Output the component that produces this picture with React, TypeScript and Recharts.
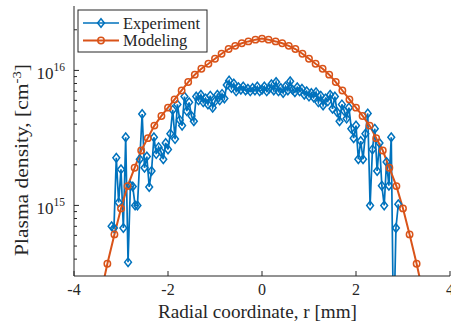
import { LineChart, Line, XAxis, YAxis } from "recharts";

const BLUE = "#0072BD";
const ORANGE = "#D95319";
const INK = "#262626";
const SERIF = '"Liberation Serif", "Times New Roman", serif';

const xTicks = [-4, -2, 0, 2, 4];
const yTicks = [
  4e14, 5e14, 6e14, 7e14, 8e14, 9e14, 1e15, 2e15, 3e15, 4e15, 5e15, 6e15,
  7e15, 8e15, 9e15, 1e16, 2e16,
];

// modeling profile, r in mm
const modelX = [
  -3.43, -3.29, -3.14, -3.0, -2.86, -2.71, -2.57, -2.43, -2.29, -2.14,
  -2.0, -1.86, -1.71, -1.57, -1.43, -1.29, -1.14, -1.0, -0.86, -0.71,
  -0.57, -0.43, -0.29, -0.14, 0, 0.14, 0.29, 0.43, 0.57, 0.71,
  0.86, 1.0, 1.14, 1.29, 1.43, 1.57, 1.71, 1.86, 2.0, 2.14,
  2.29, 2.43, 2.57, 2.71, 2.86, 3.0, 3.14, 3.29, 3.43,
];
const modelY = [
  2.2e14, 3.7e14, 6.1e14, 9.5e14, 1.39e15, 1.9e15, 2.55e15, 3.15e15, 3.9e15, 4.6e15,
  5.3e15, 6.1e15, 7.1e15, 8.2e15, 9.3e15, 1.03e16, 1.12e16, 1.22e16, 1.33e16, 1.44e16,
  1.52e16, 1.59e16, 1.64e16, 1.69e16, 1.72e16, 1.69e16, 1.64e16, 1.59e16, 1.52e16, 1.44e16,
  1.33e16, 1.22e16, 1.12e16, 1.03e16, 9.3e15, 8.2e15, 7.1e15, 6.1e15, 5.3e15, 4.6e15,
  3.9e15, 3.15e15, 2.55e15, 1.9e15, 1.39e15, 9.5e14, 6.1e14, 3.7e14, 2.2e14,
];

// measured profile
const expX = [
  -3.2, -3.15, -3.1, -3.05, -3.0, -2.95, -2.9, -2.85, -2.8, -2.75,
  -2.7, -2.65, -2.6, -2.55, -2.5, -2.45, -2.4, -2.35, -2.3, -2.25,
  -2.2, -2.15, -2.1, -2.05, -2.0, -1.95, -1.9, -1.85, -1.8, -1.75,
  -1.7, -1.65, -1.6, -1.55, -1.5, -1.45, -1.4, -1.35, -1.3, -1.25,
  -1.2, -1.15, -1.1, -1.05, -1.0, -0.95, -0.9, -0.85, -0.8, -0.75,
  -0.7, -0.65, -0.6, -0.55, -0.5, -0.45, -0.4, -0.35, -0.3, -0.25,
  -0.2, -0.15, -0.1, -0.05, 0, 0.05, 0.1, 0.15, 0.2, 0.25,
  0.3, 0.35, 0.4, 0.45, 0.5, 0.55, 0.6, 0.65, 0.7, 0.75,
  0.8, 0.85, 0.9, 0.95, 1.0, 1.05, 1.1, 1.15, 1.2, 1.25,
  1.3, 1.35, 1.4, 1.45, 1.5, 1.55, 1.6, 1.65, 1.7, 1.75,
  1.8, 1.85, 1.9, 1.95, 2.0, 2.05, 2.1, 2.15, 2.2, 2.25,
  2.3, 2.35, 2.4, 2.45, 2.5, 2.55, 2.6, 2.65, 2.7, 2.75,
  2.8, 2.85, 2.9,
];
const expY = [
  0.7e15, 0.68e15, 2.25e15, 1.05e15, 1.85e15, 0.68e15, 3.2e15, 0.38e15, 1.4e15, 1.38e15,
  1.0e15, 1.0e15, 2.2e15, 4.75e15, 1.9e15, 2.3e15, 1.37e15, 1.8e15, 3.2e15, 2.4e15,
  2.7e15, 2.5e15, 2.2e15, 2.9e15, 2.6e15, 3.4e15, 5.1e15, 3.1e15, 5.6e15, 4.3e15,
  3.9e15, 6.4e15, 5.0e15, 5.8e15, 4.6e15, 4.2e15, 6.4e15, 6.0e15, 6.6e15, 5.8e15,
  6.2e15, 5.6e15, 6.5e15, 5.3e15, 5.9e15, 6.6e15, 6.0e15, 6.7e15, 6.2e15, 7.8e15,
  8.4e15, 7.4e15, 8.0e15, 7.0e15, 7.5e15, 7.2e15, 7.6e15, 7.1e15, 7.3e15, 7.0e15,
  7.4e15, 7.1e15, 7.6e15, 7.0e15, 7.2e15, 7.6e15, 7.0e15, 7.3e15, 7.9e15, 7.1e15,
  8.2e15, 7.0e15, 7.4e15, 6.8e15, 7.6e15, 7.1e15, 8.3e15, 7.2e15, 6.9e15, 7.5e15,
  7.0e15, 7.3e15, 6.6e15, 7.0e15, 6.4e15, 6.8e15, 6.3e15, 6.9e15, 5.8e15, 6.5e15,
  5.5e15, 6.2e15, 5.9e15, 6.6e15, 5.2e15, 6.4e15, 4.9e15, 4.2e15, 5.6e15, 5.0e15,
  4.4e15, 5.3e15, 3.7e15, 3.15e15, 3.9e15, 2.2e15, 3.0e15, 2.2e15, 3.4e15, 4.8e15,
  1.0e15, 2.6e15, 3.7e15, 1.8e15, 2.9e15, 1.4e15, 1.0e15, 2.1e15, 1.4e15, 3.2e15,
  0.1e15, 0.68e15, 1.02e15,
];

const modelData = modelX.map((x, i) => ({ x, y: modelY[i] }));
const expData = expX.map((x, i) => ({ x, y: expY[i] }));

const isDecade = (v: number) =>
  Math.abs(Math.log10(v) - Math.round(Math.log10(v))) < 1e-6;

const Diamond = ({ cx, cy }: any) => {
  if (cx == null || cy == null) return null;
  return (
    <path
      d={`M${cx},${cy - 4.3}L${cx + 3.4},${cy}L${cx},${cy + 4.3}L${cx - 3.4},${cy}Z`}
      fill="none"
      stroke={BLUE}
      strokeWidth={1.5}
    />
  );
};

const Ring = ({ cx, cy }: any) => {
  if (cx == null || cy == null) return null;
  return <circle cx={cx} cy={cy} r={3.2} fill="none" stroke={ORANGE} strokeWidth={1.5} />;
};

const BottomTick = ({ x, y, payload }: any) => (
  <g>
    <line x1={x} y1={y} x2={x} y2={y - 5} stroke={INK} />
    <text x={x} y={y + 19} textAnchor="middle" fontSize={16} fill={INK} fontFamily={SERIF}>
      {payload.value}
    </text>
  </g>
);

const TopTick = ({ x, y }: any) => (
  <line x1={x} y1={y} x2={x} y2={y + 5} stroke={INK} />
);

const LeftTick = ({ x, y, payload }: any) => {
  const major = isDecade(payload.value);
  return (
    <g>
      <line x1={x} y1={y} x2={x + (major ? 5 : 3)} y2={y} stroke={INK} />
      {major && (
        <text x={x - 9} y={y + 9} textAnchor="end" fontSize={17} fill={INK} fontFamily={SERIF}>
          <tspan>10</tspan>
          <tspan dy={-8} fontSize={11.5}>
            {Math.round(Math.log10(payload.value))}
          </tspan>
        </text>
      )}
    </g>
  );
};

const RightTick = ({ x, y, payload }: any) => {
  const major = isDecade(payload.value);
  return <line x1={x} y1={y} x2={x - (major ? 5 : 3)} y2={y} stroke={INK} />;
};

export default function App() {
  return (
    <div style={{ position: "absolute", left: 0, top: 0, width: 451, height: 327, background: "#fff" }}>
      <LineChart width={451} height={327} margin={{ top: 6, right: 1, bottom: 0, left: 0 }}>
        <XAxis
          xAxisId="b"
          type="number"
          dataKey="x"
          domain={[-4, 4]}
          ticks={xTicks}
          height={51}
          tickSize={0}
          tickMargin={0}
          tick={<BottomTick />}
          stroke={INK}
          interval={0}
        />
        <XAxis
          xAxisId="t"
          orientation="top"
          type="number"
          dataKey="x"
          domain={[-4, 4]}
          ticks={xTicks}
          height={0}
          tickSize={0}
          tickMargin={0}
          tick={<TopTick />}
          stroke={INK}
          interval={0}
        />
        <YAxis
          yAxisId="l"
          type="number"
          scale="log"
          domain={[3e14, 3e16]}
          allowDataOverflow
          ticks={yTicks}
          width={74}
          tickSize={0}
          tickMargin={0}
          tick={<LeftTick />}
          stroke={INK}
          interval={0}
        />
        <YAxis
          yAxisId="r"
          orientation="right"
          type="number"
          scale="log"
          domain={[3e14, 3e16]}
          allowDataOverflow
          ticks={yTicks}
          width={0}
          tickSize={0}
          tickMargin={0}
          tick={<RightTick />}
          stroke={INK}
          interval={0}
        />
        <Line
          xAxisId="b"
          yAxisId="l"
          data={expData}
          dataKey="y"
          stroke={BLUE}
          strokeWidth={1.7}
          dot={<Diamond />}
          activeDot={false}
          isAnimationActive={false}
        />
        <Line
          xAxisId="b"
          yAxisId="l"
          data={modelData}
          dataKey="y"
          stroke={ORANGE}
          strokeWidth={2}
          dot={<Ring />}
          activeDot={false}
          isAnimationActive={false}
        />
      </LineChart>
      <svg
        width={451}
        height={327}
        style={{ position: "absolute", left: 0, top: 0, pointerEvents: "none" }}
        fontFamily={SERIF}
        fill={INK}
      >
        {/* legend */}
        <rect x={78} y={10} width={129} height={42} fill="#fff" stroke={INK} />
        <line x1={83} y1={23} x2={119} y2={23} stroke={BLUE} strokeWidth={1.7} />
        <Diamond cx={101} cy={23} />
        <text x={123} y={28.5} fontSize={16.5} textLength={77} lengthAdjust="spacingAndGlyphs">
          Experiment
        </text>
        <line x1={83} y1={40.5} x2={119} y2={40.5} stroke={ORANGE} strokeWidth={2} />
        <Ring cx={101} cy={40.5} />
        <text x={123} y={46} fontSize={16.5}>Modeling</text>
        {/* axis titles */}
        <text
          x={257.5}
          y={318}
          textAnchor="middle"
          fontSize={19}
          textLength={199}
          lengthAdjust="spacingAndGlyphs"
        >
          Radial coordinate, r [mm]
        </text>
        <text
          transform="translate(28,160) rotate(-90)"
          textAnchor="middle"
          fontSize={19}
          textLength={192}
          lengthAdjust="spacingAndGlyphs"
        >
          Plasma density, [cm
          <tspan dy={-7} fontSize={13}>-3</tspan>
          <tspan dy={7}>]</tspan>
        </text>
      </svg>
    </div>
  );
}
